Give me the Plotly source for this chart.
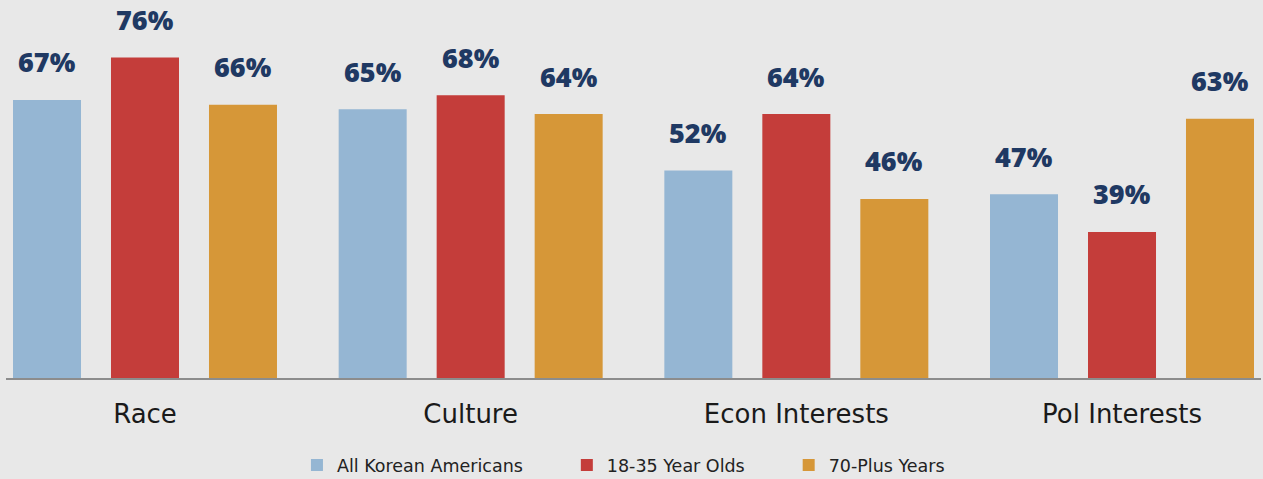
import plotly.graph_objects as go

categories = ["Race", "Culture", "Econ Interests", "Pol Interests"]
series_names = ["All Korean Americans", "18-35 Year Olds", "70-Plus Years"]
all_korean = [67, 65, 52, 47]
young_18_35 = [76, 68, 64, 39]
seniors_70 = [66, 64, 46, 63]

series_values = [all_korean, young_18_35, seniors_70]
colors = ["#95b6d3", "#c43d3a", "#d69738"]
label_color = "#1f3963"
bg = "#e8e8e8"

bargap = 0.0973
groupgap = 0.306
slot = (1 - bargap) / 3  # width of each bar slot in category units

# extra spacing after the first two legend entries
legend_pad = ["\u00a0" * 7, "\u00a0" * 7, ""]

fig = go.Figure()
for name, vals, col, pad in zip(series_names, series_values, colors, legend_pad):
    fig.add_trace(go.Bar(
        x=list(range(len(categories))), y=vals, name=name + pad,
        marker=dict(color=col, line=dict(width=0)),
    ))

# value labels floating above each bar
for j, vals in enumerate(series_values):
    for i, v in enumerate(vals):
        fig.add_annotation(
            x=i + (j - 1) * slot, y=v, xref="x", yref="y",
            text=f"{v}%", showarrow=False, yanchor="middle", yshift=38,
            font=dict(family="Open Sans", size=27, color=label_color, weight=800),
        )

fig.update_layout(
    width=1263, height=479,
    paper_bgcolor=bg, plot_bgcolor=bg,
    margin=dict(l=6, r=2, t=0, b=101),
    barmode="group", bargap=bargap, bargroupgap=groupgap,
    showlegend=True,
    legend=dict(
        orientation="h", x=0.492, xanchor="center",
        yref="container", y=0.029, yanchor="middle",
        font=dict(family="DejaVu Sans", size=17.5, color="#222222"),
        bgcolor="rgba(0,0,0,0)",
    ),
    xaxis=dict(
        tickmode="array", tickvals=list(range(len(categories))), ticktext=categories,
        range=[-0.4268, 3.4268], showgrid=False, zeroline=False,
        showline=True, linecolor="#8c8c8c", linewidth=2, ticks="",
        tickfont=dict(family="DejaVu Sans", size=26, color="#1a1a1a"),
        ticklabelstandoff=12,
        fixedrange=True,
    ),
    yaxis=dict(
        range=[8, 88.2], showgrid=False, zeroline=False, showticklabels=False,
        showline=False, ticks="", fixedrange=True,
    ),
)

fig.write_html("out.html")
